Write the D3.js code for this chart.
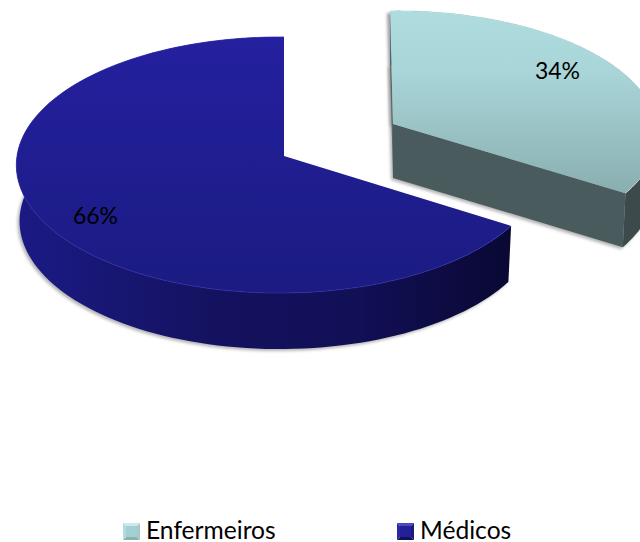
<!DOCTYPE html>
<html><head><meta charset="utf-8">
<script src="https://cdn.jsdelivr.net/npm/d3@7"></script>
<style>html,body{margin:0;background:#fff}svg{display:block}text{font-family:Lato,"Open Sans",sans-serif;fill:#000}</style>
</head><body><svg id="c" width="640" height="542"></svg>
<script>
const categories = ["Enfermeiros", "Médicos"];
const values = [34, 66];
const labels = ["34%", "66%"];
const topColors = [["#aedcdf", "#8aafb1"], ["#24209f", "#1b1b82"]];
const wallColors = [["#495b5c", "#495b5c"], ["#1b1a85", "#0a0833"]];
const sideColors = ["#3c4a4b", "#100e50"];

// projective views of each slice (the exploded slice has its own apex)
const views = [
  {ax:393, ay:124, a:256, b:121, s:-3.2, p:0.07, q:-0.03, depth:54},
  {ax:284, ay:156, a:262.6, b:127.4, s:0, p:0.0704, q:0.0165, depth:56}
];
const svg = d3.select("#c");
const defs = svg.append("defs");
const blur = defs.append("filter").attr("id","sh").attr("x","-10%").attr("y","-10%").attr("width","120%").attr("height","120%");
blur.append("feGaussianBlur").attr("stdDeviation",1.6);

const pie = d3.pie().sort(null).value(d=>d);
const arcs = pie(values);
const project = (v,r,t,d=0)=>{
  const X=r*Math.sin(t), Y=r*Math.cos(t), w=1+v.p*Y+v.q*X;
  const shrink=1-0.012*d/56; // lower face sits slightly further from the viewer
  return [v.ax+shrink*(v.a*X+v.s*Y)/w, v.ay-v.b*Y/w+d];
};
const line = d3.line();
const rim = (v,a,d=0)=>d3.range(0,121).map(i=>project(v,1,a.startAngle+(a.endAngle-a.startAngle)*i/120,d));

function grad(id,x1,y1,x2,y2,stops){
  const g=defs.append("linearGradient").attr("id",id).attr("gradientUnits","userSpaceOnUse")
    .attr("x1",x1).attr("y1",y1).attr("x2",x2).attr("y2",y2);
  stops.forEach(([o,c])=>g.append("stop").attr("offset",o).attr("stop-color",c));
}
grad("t0",0,10,0,190,[[0,topColors[0][0]],[.35,"#a9d5d8"],[1,topColors[0][1]]]);
grad("t1",0,37,0,293,[[0,topColors[1][0]],[1,topColors[1][1]]]);
grad("w1",17,0,511,0,[[0,wallColors[1][0]],[.4,"#14125f"],[.7,"#110f55"],[1,wallColors[1][1]]]);

[0,1].forEach(i=>{
  const v=views[i], a=arcs[i], top=rim(v,a), low=rim(v,a,v.depth), apex=project(v,0,0);
  const g=svg.append("g");
  const whole=[...top,apex];
  const wholeLow=[...low,[apex[0],apex[1]+v.depth]];
  // soft shadow
  g.append("path").attr("d",line(wholeLow)+"Z").attr("transform","translate(-2,2)")
    .attr("fill","#b5b5b5").attr("filter","url(#sh)");
  if(i==0) g.append("path").attr("d",line(whole)+"Z").attr("transform","translate(-3,2)")
    .attr("fill","#a0a0a0").attr("filter","url(#sh)");
  // outer wall
  g.append("path").attr("d",line([...top,...low.slice().reverse()])+"Z")
    .attr("fill",i==0?sideColors[0]:"url(#w1)");
  if(i==0){
    // cut faces, from the rim ends to the apex
    g.append("path").attr("d",line([project(v,1,a.endAngle),apex,[apex[0],apex[1]+v.depth],project(v,1,a.endAngle,v.depth)])+"Z").attr("fill",wallColors[0][0]);
    g.append("path").attr("d",line([top[0],apex,[apex[0],apex[1]+v.depth],low[0]])+"Z").attr("fill","#56696a");
  }
  g.append("path").attr("d",line(whole)+"Z").attr("fill",`url(#t${i})`);
  g.append("path").attr("d",line(top)).attr("fill","none").attr("stroke",i==0?"#c4e6e8":"#2f2cab").attr("stroke-width",1).attr("stroke-opacity",.7);
});

// value labels
const labelPos=[[557.5,71],[95.5,216]];
labels.forEach((t,i)=>{
  svg.append("text").attr("x",labelPos[i][0]).attr("y",labelPos[i][1]+8).attr("text-anchor","middle")
    .attr("font-size",23).text(t);
});

// legend
const lx=d3.scaleOrdinal().domain(categories).range([123,397]);
const swatch=[["#cfe9ea","#8fb0b2","#b5dadc","#a8c9cb","#a3d0d3"],["#4a48c0","#12105a","#2b29a0","#1c1a78","#23209a"]];
const S=17, Y0=523;
categories.forEach((c,i)=>{
  const x=lx(c), sw=swatch[i], g=svg.append("g").attr("transform",`translate(${x},${Y0})`);
  const b=3;
  [[[0,0],[S,0],[S-b,b],[b,b]],[[0,S],[S,S],[S-b,S-b],[b,S-b]],[[0,0],[b,b],[b,S-b],[0,S]],[[S,0],[S-b,b],[S-b,S-b],[S,S]],[[b,b],[S-b,b],[S-b,S-b],[b,S-b]]]
   .forEach((pts,k)=>g.append("path").attr("d",line(pts)+"Z").attr("fill",sw[k]));
  svg.append("text").attr("x",x+23).attr("y",538.5).attr("font-size",24.6).text(c);
});
</script></body></html>
